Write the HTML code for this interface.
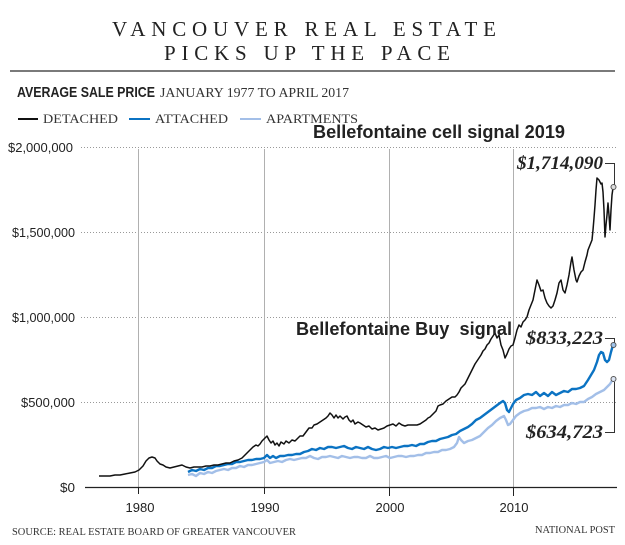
<!DOCTYPE html>
<html><head><meta charset="utf-8"><style>
html,body{margin:0;padding:0;background:#fff;}
svg{display:block;}
</style></head><body>
<svg width="625" height="545" viewBox="0 0 625 545" xmlns="http://www.w3.org/2000/svg">
<rect width="625" height="545" fill="#fff"/>
<!-- Title -->
<text x="112" y="36" font-family="Liberation Serif, serif" font-size="21" fill="#222" textLength="384" lengthAdjust="spacing">VANCOUVER REAL ESTATE</text>
<text x="164" y="60" font-family="Liberation Serif, serif" font-size="21" fill="#222" textLength="286" lengthAdjust="spacing">PICKS UP THE PACE</text>
<line x1="10" y1="71" x2="615" y2="71" stroke="#7a7a7a" stroke-width="2"/>
<!-- Subtitle -->
<text x="17" y="97" font-family="Liberation Sans, sans-serif" font-weight="bold" font-size="15" fill="#222" textLength="138" lengthAdjust="spacingAndGlyphs">AVERAGE SALE PRICE</text>
<text x="160" y="97" font-family="Liberation Serif, serif" font-size="14" fill="#333" textLength="189" lengthAdjust="spacingAndGlyphs">JANUARY 1977 TO APRIL 2017</text>
<!-- Legend -->
<line x1="18" y1="119" x2="38" y2="119" stroke="#111" stroke-width="2"/>
<text x="43" y="123" font-family="Liberation Serif, serif" font-size="13" fill="#333" textLength="75" lengthAdjust="spacingAndGlyphs">DETACHED</text>
<line x1="129" y1="119" x2="150" y2="119" stroke="#0b73c3" stroke-width="2"/>
<text x="155" y="123" font-family="Liberation Serif, serif" font-size="13" fill="#333" textLength="73" lengthAdjust="spacingAndGlyphs">ATTACHED</text>
<line x1="240" y1="119" x2="261" y2="119" stroke="#a3bfe8" stroke-width="2"/>
<text x="266" y="123" font-family="Liberation Serif, serif" font-size="13" fill="#333" textLength="92" lengthAdjust="spacingAndGlyphs">APARTMENTS</text>
<!-- Horizontal dotted gridlines -->
<g stroke="#999" stroke-width="1" stroke-dasharray="1,2">
<line x1="81" y1="147.5" x2="617" y2="147.5"/>
<line x1="81" y1="232.5" x2="617" y2="232.5"/>
<line x1="81" y1="317.5" x2="617" y2="317.5"/>
<line x1="81" y1="402.5" x2="617" y2="402.5"/>
</g>
<!-- Vertical gridlines -->
<g stroke="#b0b0b0" stroke-width="1">
<line x1="138.5" y1="149" x2="138.5" y2="487"/>
<line x1="264.5" y1="149" x2="264.5" y2="487"/>
<line x1="389.5" y1="149" x2="389.5" y2="487"/>
<line x1="513.5" y1="149" x2="513.5" y2="487"/>
</g>
<g stroke="#222" stroke-width="1">
<line x1="138.5" y1="487" x2="138.5" y2="494"/>
<line x1="264.5" y1="487" x2="264.5" y2="494"/>
<line x1="389.5" y1="487" x2="389.5" y2="496"/>
<line x1="513.5" y1="487" x2="513.5" y2="496"/>
</g>
<line x1="85" y1="487.5" x2="617" y2="487.5" stroke="#222" stroke-width="1.3"/>
<!-- Y labels -->
<g font-family="Liberation Sans, sans-serif" font-size="13" fill="#222">
<text x="8" y="152" textLength="65" lengthAdjust="spacingAndGlyphs">$2,000,000</text>
<text x="12" y="237" textLength="63" lengthAdjust="spacingAndGlyphs">$1,500,000</text>
<text x="12" y="322" textLength="63" lengthAdjust="spacingAndGlyphs">$1,000,000</text>
<text x="21" y="407" textLength="54" lengthAdjust="spacingAndGlyphs">$500,000</text>
<text x="60" y="492" textLength="15" lengthAdjust="spacingAndGlyphs">$0</text>
</g>
<!-- X labels -->
<g font-family="Liberation Sans, sans-serif" font-size="13" fill="#222" text-anchor="middle">
<text x="140" y="512">1980</text>
<text x="265" y="512">1990</text>
<text x="390" y="512">2000</text>
<text x="514" y="512">2010</text>
</g>
<!-- Series -->
<polyline fill="none" stroke="#a3bfe8" stroke-width="2.4" stroke-linejoin="round" points="188,475 192,474 196,476 200,473 204,474 208,472 212,473 216,471 220,470 224,469 228,470 232,468 236,468 240,466 244,467 248,465 252,465 256,464 260,463 264,462 267,460 270,463 274,462 278,461 282,462 286,460 290,459 294,460 298,459 302,458 306,458 310,456 314,458 318,459 322,457 326,457 330,456 334,457 338,458 342,456 346,457 350,458 354,457 358,457 362,458 366,458 370,456 374,458 378,458 382,457 386,456 390,458 394,457 398,456 402,456 406,457 410,456 414,456 418,455 422,455 426,453 430,453 434,452 438,452 442,450 446,450 450,449 454,447 457,443 459,437 461,440 464,443 468,441 472,440 476,438 480,436 484,432 488,428 492,425 496,421 500,418 504,416 506,420 508,425 510,424 513,420 516,416 520,413 524,411 528,410 532,408 536,408 540,407 544,409 548,407 552,408 556,406 560,407 564,405 568,405 572,403 576,404 580,402 584,402 588,399 592,397 596,394 600,392 604,390 607,387 610,384 613,379"/>
<polyline fill="none" stroke="#0b73c3" stroke-width="2.4" stroke-linejoin="round" points="188,472 192,470 196,471 200,469 204,470 208,468 212,468 216,466 220,466 224,465 228,464 232,464 236,462 240,462 244,461 248,460 252,460 256,459 260,459 264,458 267,455 270,458 273,456 276,458 280,456 284,456 288,455 292,455 296,454 300,454 304,452 308,451 312,449 316,450 320,448 324,449 328,447 332,447 336,448 340,447 344,446 348,448 352,449 356,447 360,448 364,449 368,447 372,449 376,450 380,449 384,447 388,448 392,447 396,448 400,447 404,446 408,446 412,445 416,446 420,444 424,444 428,442 432,441 436,441 440,439 444,438 448,437 452,435 456,434 460,431 464,429 468,427 472,424 476,420 480,418 484,415 488,412 492,409 496,406 500,403 503,401 505,403 507,410 509,412 511,408 513,404 516,400 520,398 524,395 528,394 532,395 536,392 540,396 544,393 548,396 552,392 556,395 560,393 564,391 568,392 572,389 576,389 580,388 584,386 588,380 591,375 594,370 597,362 599,355 601,352 603,353 605,360 607,362 609,360 611,352 613,345"/>
<polyline fill="none" stroke="#111" stroke-width="1.5" stroke-linejoin="round" points="99,476 105,476 110,476 115,475 120,475 125,474 130,473 135,472 139,470 143,466 146,461 149,458 152,457 155,458 157,461 160,464 163,465 166,467 170,468 174,467 178,466 182,465 186,467 190,468 194,467 198,467 202,467 206,466 210,466 214,465 218,465 222,464 226,463 230,463 234,461 238,460 242,458 245,455 248,452 250,450 253,447 256,445 258,446 260,444 262,441 265,438 267,436 269,440 271,443 273,441 275,445 277,443 279,446 281,442 284,444 286,441 289,443 292,440 295,441 298,438 300,436 303,436 306,432 309,428 312,428 314,425 317,424 320,422 323,420 326,418 328,416 330,413 332,415 334,418 336,415 338,418 340,416 343,419 345,417 347,416 349,420 351,422 353,420 355,424 358,422 360,423 363,425 366,427 369,426 372,429 375,428 378,430 381,429 384,428 387,426 390,425 393,424 396,426 399,423 402,425 405,426 408,425 411,425 414,425 417,425 420,424 423,422 426,420 428,418 430,417 433,414 436,411 438,406 440,405 443,404 446,401 449,399 452,397 455,397 457,395 459,392 461,388 463,386 465,384 467,380 469,376 471,372 473,368 475,364 477,361 479,358 481,355 483,351 485,349 487,345 489,343 491,339 493,336 495,333 497,338 499,335 501,345 503,350 505,358 507,354 509,349 511,346 513,345 515,338 517,330 519,325 521,327 523,322 525,320 527,317 529,310 531,305 533,300 535,290 537,280 539,285 541,291 543,290 545,298 547,303 549,306 551,308 553,306 555,300 557,293 559,283 561,280 563,290 565,293 567,285 569,275 571,262 572,257 574,270 576,280 577,282 579,276 581,272 583,270 585,262 587,255 588,250 590,245 592,240 593,230 594,218 595,205 596,190 597,178 599,180 601,184 602,183 603,192 604,210 605,237 606,225 607,215 608,203 609,215 610,230 611,210 612,195 613,188"/>
<!-- Callouts -->
<g stroke="#333" stroke-width="1" fill="none">
<polyline points="605,163.5 614.5,163.5 614.5,185"/>
<polyline points="605,338.5 614.5,338.5 614.5,343"/>
<polyline points="614.5,382 614.5,432.5 605,432.5"/>
</g>
<g stroke="#555" stroke-width="1">
<circle cx="613.5" cy="187" r="2.5" fill="#ddd"/>
<circle cx="613.5" cy="345" r="2.5" fill="#9fc3ea"/>
<circle cx="613.5" cy="379" r="2.5" fill="#dde6f5"/>
</g>
<g font-family="Liberation Serif, serif" font-style="italic" font-weight="bold" font-size="19" fill="#222">
<text x="517" y="169" textLength="86" lengthAdjust="spacingAndGlyphs">$1,714,090</text>
<text x="526" y="344" textLength="77" lengthAdjust="spacingAndGlyphs">$833,223</text>
<text x="526" y="438" textLength="77" lengthAdjust="spacingAndGlyphs">$634,723</text>
</g>
<!-- Overlay text -->
<text x="313" y="138" font-family="Liberation Sans, sans-serif" font-weight="bold" font-size="18" fill="#222" textLength="252" lengthAdjust="spacingAndGlyphs">Bellefontaine cell signal 2019</text>
<text x="296" y="335" font-family="Liberation Sans, sans-serif" font-weight="bold" font-size="18" fill="#222" style="white-space:pre" textLength="216" lengthAdjust="spacingAndGlyphs">Bellefontaine Buy  signal</text>
<!-- Footer -->
<text x="12" y="535" font-family="Liberation Serif, serif" font-size="11" fill="#333" textLength="284" lengthAdjust="spacingAndGlyphs">SOURCE: REAL ESTATE BOARD OF GREATER VANCOUVER</text>
<text x="535" y="533" font-family="Liberation Serif, serif" font-size="11" fill="#333" textLength="80" lengthAdjust="spacingAndGlyphs">NATIONAL POST</text>
</svg>
</body></html>
